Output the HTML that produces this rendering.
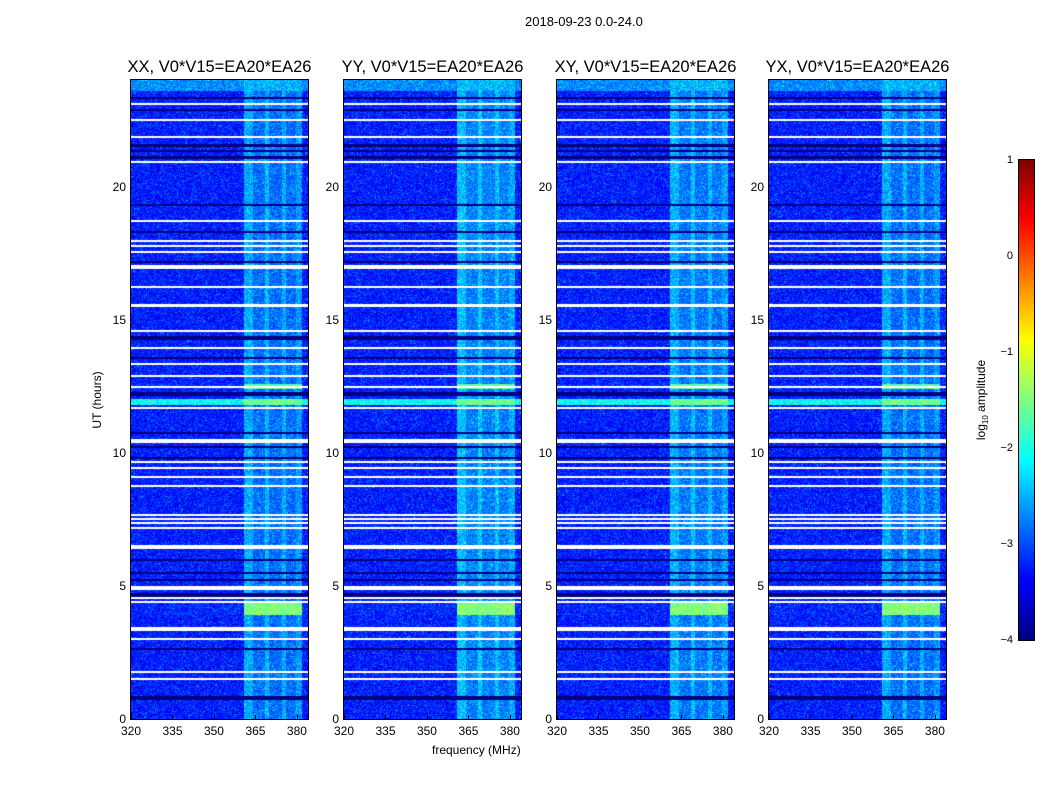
<!DOCTYPE html>
<html><head><meta charset="utf-8">
<style>
body{margin:0;background:#fff;}
#fig{position:relative;width:1050px;height:800px;background:#fff;font-family:"Liberation Sans","DejaVu Sans",sans-serif;color:#000;overflow:hidden;}
.t{position:absolute;white-space:nowrap;}
canvas{position:absolute;}
.frame{position:absolute;border:1px solid #000;box-sizing:border-box;}
</style></head>
<body>
<div id="fig">
<div class="t" style="left:525px;top:14px;font-size:13px;">2018-09-23 0.0-24.0</div>
<div class="t" style="left:432px;top:743px;font-size:12px;">frequency (MHz)</div>
<div class="t" style="left:97px;top:400px;font-size:12px;transform:translate(-50%,-50%) rotate(-90deg);">UT (hours)</div>
<div class="t" style="left:982px;top:400px;font-size:12px;transform:translate(-50%,-50%) rotate(-90deg);">log<sub style="font-size:8px">10</sub> amplitude</div>
</div>
<script>
// ---- data ----
const panelTitles = ["XX, V0*V15=EA20*EA26","YY, V0*V15=EA20*EA26","XY, V0*V15=EA20*EA26","YX, V0*V15=EA20*EA26"];
const xTicks = [320,335,350,365,380];
const yTicks = [0,5,10,15,20];
const cbTicks = [1,0,-1,-2,-3,-4];
const cbTickLabels = ["1","0","\u22121","\u22122","\u22123","\u22124"];
// flagged (white) rows, UT hours [start,end]
const whiteRows = [[23.05,23.12],[22.45,22.52],[21.82,21.89],[20.88,20.95],[18.67,18.74],[17.92,17.99],[17.73,17.8],[17.5,17.57],[16.92,17.05],[16.2,16.27],[15.48,15.6],[14.54,14.61],[13.9,13.97],[13.3,13.37],[12.85,12.92],[12.44,12.51],[11.65,11.72],[10.38,10.5],[9.62,9.69],[9.4,9.47],[9.06,9.13],[8.72,8.79],[7.62,7.7],[7.48,7.55],[7.32,7.4],[7.14,7.21],[6.4,6.52],[4.86,4.98],[4.51,4.58],[4.36,4.43],[3.32,3.45],[2.96,3.04],[1.74,1.81],[1.47,1.54]];
// low-signal (dark) rows, UT hours [start,end]
const darkRows = [[23.28,23.36],[22.82,22.92],[21.5,21.6],[21.3,21.38],[21.05,21.15],[19.28,19.36],[18.25,18.33],[17.12,17.2],[14.25,14.4],[13.52,13.6],[12.15,12.3],[10.7,10.78],[10.16,10.24],[9.76,9.84],[5.93,6.0],[5.44,5.52],[5.18,5.26],[4.6,4.72],[2.6,2.67],[0.72,0.86]];
// bright rows: [start,end,level inside band, level outside band]
const brightRows = [[11.8,12.0,-1.6,-2.1],[23.6,24.0,-2.5,-2.7],[3.9,4.4,-1.5,-3.2],[12.4,12.6,-1.7,-3.2]];
// RFI band (MHz) and its sub-channel levels
const bandEdges = [361,364,368.5,370,374.5,376,379.5,382];
const bandLevels = [-2.55,-2.85,-2.5,-2.85,-2.55,-2.85,-2.65];
const panelBandBoost = [0,0.1,0.05,0];
const backgroundLevel = -3.25;
const xMin = 320, xMax = 384, yMin = 0, yMax = 24, vMin = -4, vMax = 1;
</script>
<script>
const fig = document.getElementById('fig');
const panelLeft = [131,344,557,769];
const PW = 177, PT = 80, PH = 639;
function xs(f){return (f - xMin) / (xMax - xMin) * PW;}
function ys(h){return PH - (h - yMin) / (yMax - yMin) * PH;}
function jet(v){
  let t = (v - vMin) / (vMax - vMin); t = Math.max(0, Math.min(1, t));
  const r = Math.max(0, Math.min(1, 1.5 - Math.abs(4*t - 3)));
  const g = Math.max(0, Math.min(1, 1.5 - Math.abs(4*t - 2)));
  const b = Math.max(0, Math.min(1, 1.5 - Math.abs(4*t - 1)));
  return [r*255, g*255, b*255];
}
function hash(a,b,c){let h = a*374761393 + b*668265263 + c*2147483647; h = (h ^ (h >>> 13)) * 1274126177; h = h ^ (h >>> 16); return ((h >>> 0) % 1000) / 1000;}
function inRows(rows, h){for(const r of rows){if(h >= r[0] && h <= r[1]) return r;} return null;}
function bandLevel(f){for(let i=0;i<bandEdges.length-1;i++){if(f>=bandEdges[i]&&f<bandEdges[i+1]) return bandLevels[i];} return null;}

panelLeft.forEach((L, p) => {
  const cv = document.createElement('canvas');
  
  
  cv.width = PW; cv.height = PH;
  cv.style.left = L + 'px'; cv.style.top = PT + 'px';
  fig.appendChild(cv);
  const ctx = cv.getContext('2d');
  const img = ctx.createImageData(PW, PH);
  for (let py = 0; py < PH; py++) {
    const h = yMax - (py + 0.5) / PH * (yMax - yMin);
    const white = inRows(whiteRows, h);
    const dark = inRows(darkRows, h);
    const bright = inRows(brightRows, h);
    for (let px = 0; px < PW; px++) {
      const idx = (py * PW + px) * 4;
      if (white) { img.data[idx]=255; img.data[idx+1]=255; img.data[idx+2]=255; img.data[idx+3]=255; continue; }
      const f = xMin + (px + 0.5) / PW * (xMax - xMin);
      let v = backgroundLevel;
      const bl = bandLevel(f);
      if (bl !== null) v = bl + panelBandBoost[p];
      if (bright) v = Math.max(v, bl !== null ? bright[2] : bright[3]);
      const n = hash(px, py, p);
      v += (n - 0.5) * 0.6 + (n > 0.9 ? 0.25 : 0);
      if (dark) v = -4.6 + hash(px, py, p+7) * 0.5;
      const c = jet(v);
      img.data[idx]=c[0]; img.data[idx+1]=c[1]; img.data[idx+2]=c[2]; img.data[idx+3]=255;
    }
  }
  ctx.putImageData(img, 0, 0);

  const fr = document.createElement('div');
  fr.className = 'frame';
  
  
  fr.style.left = (L-1) + 'px'; fr.style.top = (PT-1) + 'px'; fr.style.width = (PW+2) + 'px'; fr.style.height = (PH+2) + 'px';
  fig.appendChild(fr);

  const t = document.createElement('div');
  t.className = 't';
  
  
  t.style.left = (L + PW/2) + 'px'; t.style.top = '58px'; t.style.fontSize = '16.5px'; t.style.transform = 'translateX(-50%)';
  t.textContent = panelTitles[p];
  fig.appendChild(t);

  xTicks.forEach(v => {
    const x = L + xs(v);
    const tl = document.createElement('div');
    tl.className = 't';
    
    
    tl.style.left = x + 'px'; tl.style.top = '724px'; tl.style.fontSize = '12px'; tl.style.transform = 'translateX(-50%)';
    tl.textContent = v;
    fig.appendChild(tl);
    const tk = document.createElement('div');
    
    
    tk.style.cssText = 'position:absolute;width:1px;height:4px;background:#000;left:' + x + 'px;top:' + (PT+PH-4) + 'px';
    fig.appendChild(tk);
  });
  yTicks.forEach(v => {
    const y = PT + ys(v);
    const tl = document.createElement('div');
    tl.className = 't';
    
    
    tl.style.left = (L - 5) + 'px'; tl.style.top = (y - 7) + 'px'; tl.style.fontSize = '12px'; tl.style.transform = 'translateX(-100%)';
    tl.textContent = v;
    fig.appendChild(tl);
  });
});

// colorbar
const CBX = 1019, CBY = 160, CBW = 15, CBH = 480;
const cb = document.createElement('canvas');


cb.width = CBW; cb.height = CBH; cb.style.left = CBX + 'px'; cb.style.top = CBY + 'px';
fig.appendChild(cb);
const cctx = cb.getContext('2d');
for (let y = 0; y < CBH; y++) {
  const v = vMax - (y + 0.5) / CBH * (vMax - vMin);
  const c = jet(v);
  cctx.fillStyle = 'rgb(' + c.map(Math.round).join(',') + ')';
  cctx.fillRect(0, y, CBW, 1);
}
const cbf = document.createElement('div');
cbf.className = 'frame';


cbf.style.left = (CBX-1) + 'px'; cbf.style.top = (CBY-1) + 'px'; cbf.style.width = (CBW+2) + 'px'; cbf.style.height = (CBH+2) + 'px';
fig.appendChild(cbf);
cbTicks.forEach((v, i) => {
  const y = CBY + (vMax - v) / (vMax - vMin) * CBH;
  const tl = document.createElement('div');
  tl.className = 't';
  
  
  tl.style.left = (CBX - 6) + 'px'; tl.style.top = (y - 6) + 'px'; tl.style.fontSize = '11px'; tl.style.transform = 'translateX(-100%)';
  tl.textContent = cbTickLabels[i];
  fig.appendChild(tl);
});
</script>
</body></html>
